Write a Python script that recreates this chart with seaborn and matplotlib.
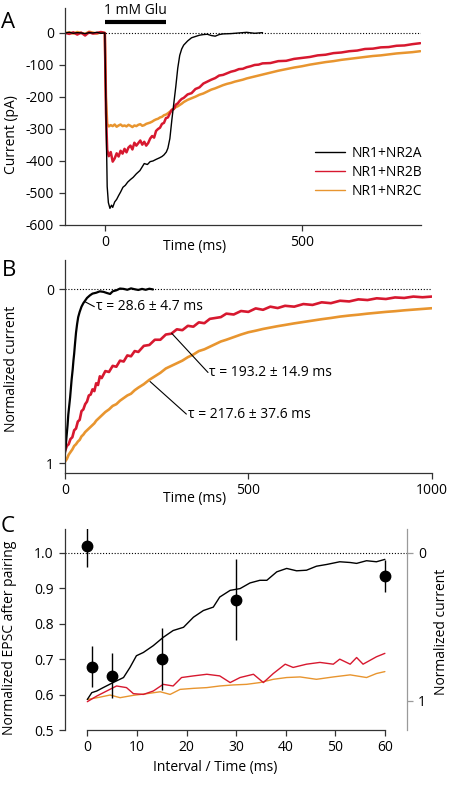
import matplotlib
matplotlib.use("Agg")
import matplotlib.pyplot as plt
import seaborn as sns
import pandas as pd

# ---------------- data ----------------
labels = ["NR1+NR2A", "NR1+NR2B", "NR1+NR2C"]
colors = ["#000000", "#d7182f", "#e8952f"]

# Panel A: raw currents (pA) vs time (ms)
a_t_2a = [-100, -90, -80, -70, -60, -50, -40, -30, -20, -10,
          0, 3, 6, 9, 13, 17, 20, 25, 30, 35, 40,
          46, 52, 58, 65, 72, 80, 89, 95, 100,
          108, 115, 122, 130, 139, 145, 150, 156, 160, 165,
          170, 175, 180, 185, 190, 195, 200, 210, 220, 230,
          240, 250, 260, 270, 280, 290, 300, 320, 340, 360,
          380, 400]
a_i_2a = [0, 2, -1, 1, 0, -2, 1, 0, 2, -1,
          0, -250, -480, -530, -548, -538, -545, -528, -520, -508, -497,
          -482, -476, -466, -458, -451, -440, -430, -418, -408,
          -411, -402, -400, -395, -390, -386, -381, -372, -360, -330,
          -272, -220, -168, -110, -70, -50, -38, -25, -15, -11,
          -7, -5, -4, -8, -10, -5, -3, -2, 0, 2,
          -1, 1]

a_t = [-100, -90, -80, -70, -60, -50, -40, -30, -20, -10,
       0, 3, 6,
       10, 15, 20, 25, 30, 35, 40, 45, 50, 55,
       60, 65, 70, 75, 80, 85, 90, 95, 100, 105,
       110, 115, 120, 125, 130, 135, 140, 145, 150, 155,
       160, 165, 170, 175, 180, 185, 190, 195, 200,
       210, 220, 230, 240, 250, 260, 270, 280, 290, 300,
       310, 320, 330, 340, 350, 360, 370, 380, 390, 400,
       420, 440, 460, 480, 500, 520, 540, 560, 580, 600,
       620, 640, 660, 680, 700, 720, 740, 760, 780, 800]
a_i_2b = [0, -3, 2, -5, 1, -8, 2, -2, 0, 3,
          0, -250, -365,
          -385, -372, -402, -392, -376, -386, -368, -377, -362, -373,
          -358, -352, -364, -343, -352, -344, -336, -349, -340, -352,
          -344, -330, -322, -327, -306, -300, -296, -284, -281, -266,
          -264, -251, -240, -238, -224, -220, -212, -206, -203,
          -192, -188, -175, -170, -158, -152, -146, -141, -133, -131,
          -126, -121, -118, -113, -112, -107, -104, -100, -99, -95,
          -94, -88, -87, -81, -78, -75, -70, -68, -63, -61,
          -57, -55, -50, -49, -45, -44, -40, -39, -35, -32]
a_i_2c = [0, 2, -2, 3, 0, -3, 4, 1, -2, 2,
          0, -200, -284,
          -292, -288, -291, -286, -293, -289, -286, -291, -289, -292,
          -287, -290, -294, -289, -291, -287, -285, -290, -288, -284,
          -282, -280, -277, -273, -270, -268, -264, -262, -257, -255,
          -251, -246, -241, -236, -232, -229, -225, -221, -216,
          -209, -204, -199, -193, -189, -183, -177, -173, -168, -163,
          -159, -156, -152, -149, -146, -142, -139, -136, -133, -130,
          -124, -118, -113, -108, -104, -99, -95, -91, -88, -84,
          -81, -78, -75, -72, -70, -67, -64, -62, -60, -57]
glu_window = [0, 155]
glu_label = "1 mM Glu"

# Panel B: normalized current vs time (ms)
b_t_2a = [0, 2, 4, 7, 9, 12, 14, 16, 18, 21,
          23, 25, 27, 30, 33, 36, 40, 45, 50, 55,
          60, 68, 75, 85, 95, 105, 115, 123, 130, 140,
          150, 160, 170, 180, 190, 200, 210, 220, 230, 240]
b_n_2a = [0.94, 0.90, 0.85, 0.78, 0.72, 0.66, 0.62, 0.57, 0.52, 0.46,
          0.41, 0.37, 0.32, 0.25, 0.20, 0.16, 0.13, 0.10, 0.08, 0.065,
          0.05, 0.035, 0.025, 0.02, 0.012, 0.015, 0.022, 0.027, 0.012, 0.006,
          -0.004, -0.002, 0.003, -0.005, 0.0, 0.004, -0.002, 0.003, -0.003, 0.001]
b_t = [0, 5, 10, 15, 20, 25, 30, 35, 40, 45, 50, 55, 60, 65, 70, 75, 80, 85, 90, 95, 100,
       110, 120, 130, 140, 150, 160, 170, 180, 190, 200,
       215, 230, 245, 260, 275, 290, 305, 320, 335, 350, 365, 380, 395, 410, 425, 440,
       460, 480, 500, 520, 540, 560, 580, 600,
       625, 650, 675, 700, 725, 750, 775, 800, 825, 850, 875, 900, 925, 950, 975, 1000]
b_n_2b = [0.93, 0.90, 0.89, 0.86, 0.85, 0.81, 0.80, 0.76, 0.75, 0.70, 0.69, 0.66, 0.645,
          0.61, 0.605, 0.575, 0.585, 0.54, 0.55, 0.50, 0.51,
          0.47, 0.475, 0.44, 0.445, 0.41, 0.415, 0.38, 0.385, 0.355, 0.36,
          0.325, 0.32, 0.29, 0.29, 0.26, 0.255, 0.23, 0.235, 0.21, 0.215, 0.19, 0.195,
          0.17, 0.165, 0.16, 0.14,
          0.145, 0.125, 0.13, 0.11, 0.118, 0.10, 0.108, 0.095,
          0.10, 0.085, 0.09, 0.075, 0.08, 0.066, 0.07, 0.058, 0.062, 0.052, 0.056,
          0.047, 0.05, 0.042, 0.046, 0.042]
b_n_2c = [0.99, 0.975, 0.95, 0.935, 0.92, 0.90, 0.89, 0.875, 0.865, 0.845, 0.835, 0.82,
          0.81, 0.80, 0.79, 0.78, 0.77, 0.755, 0.745, 0.735, 0.725,
          0.705, 0.69, 0.67, 0.66, 0.64, 0.625, 0.61, 0.60, 0.58, 0.565,
          0.545, 0.52, 0.50, 0.48, 0.455, 0.44, 0.425, 0.41, 0.39, 0.375, 0.355, 0.345,
          0.33, 0.315, 0.30, 0.29,
          0.275, 0.26, 0.247, 0.238, 0.228, 0.22, 0.212, 0.205,
          0.196, 0.188, 0.18, 0.172, 0.165, 0.157, 0.151, 0.146, 0.14, 0.135, 0.13,
          0.126, 0.121, 0.117, 0.113, 0.109]
tau_texts = ["\u03c4 = 28.6 \u00b1 4.7 ms", "\u03c4 = 193.2 \u00b1 14.9 ms",
             "\u03c4 = 217.6 \u00b1 37.6 ms"]
tau_anchor_t = [54, 291, 232]
tau_anchor_n = [0.071, 0.253, 0.53]
tau_text_t = [80, 390, 331]
tau_text_n = [0.10, 0.478, 0.717]

# Panel C: paired-pulse data (left axis) and normalized currents (right axis)
c_interval = [0, 1, 5, 15, 30, 60]
c_epsc = [1.019, 0.679, 0.653, 0.700, 0.867, 0.935]
c_err = [0.060, 0.058, 0.063, 0.087, 0.114, 0.045]

c_t_2a = [0, 0.9, 1.9, 3.2, 5.2, 7.3, 8.6, 9.9, 11.3, 13.3, 15.3, 17.3, 19.4, 21.4,
          23.4, 25.4, 26.7, 28.8, 30.8, 32.8, 34.8, 36.2, 38.2, 40.2, 42.2, 44.2,
          46.2, 48.3, 50.9, 53, 54.3, 56.3, 58.3, 60]
c_n_2a = [0.99, 0.944, 0.933, 0.91, 0.876, 0.842, 0.774, 0.695, 0.673, 0.627, 0.571,
          0.525, 0.503, 0.435, 0.39, 0.367, 0.299, 0.254, 0.242, 0.204, 0.186, 0.186,
          0.129, 0.106, 0.122, 0.118, 0.091, 0.079, 0.061, 0.066, 0.072, 0.054,
          0.061, 0.045]
c_t_2b = [0, 1.9, 3.9, 5.9, 7.9, 9.3, 11.3, 13.3, 15.3, 17.3, 19, 21.4, 24.1, 26.7,
          28.8, 30.8, 33.5, 35.5, 37.5, 39.9, 41.5, 44.2, 46.9, 49.6, 50.9, 53, 54.3,
          55.6, 58.3, 60]
c_n_2b = [1.005, 0.967, 0.933, 0.899, 0.91, 0.951, 0.956, 0.933, 0.888, 0.899, 0.842,
          0.831, 0.82, 0.831, 0.876, 0.842, 0.82, 0.876, 0.815, 0.752, 0.774, 0.752,
          0.74, 0.752, 0.718, 0.752, 0.707, 0.752, 0.702, 0.679]
c_t_2c = [0, 2.6, 4.6, 6.6, 9.3, 12, 14.7, 16.7, 18.7, 21.4, 24.1, 26.7, 29.4, 32.1,
          34.8, 37.5, 40.2, 42.9, 46.2, 49.6, 53, 56.3, 58.3, 60]
c_n_2c = [0.99, 0.974, 0.96, 0.978, 0.962, 0.951, 0.938, 0.956, 0.922, 0.915, 0.91,
          0.899, 0.892, 0.888, 0.876, 0.854, 0.842, 0.838, 0.854, 0.838, 0.824, 0.842,
          0.815, 0.802]

# ---------------- style ----------------
sns.set_theme(style="ticks")
FS = 10
spine_c = "#333333"
plt.rcParams.update({
    "font.family": ["Open Sans", "DejaVu Sans"],
    "font.size": FS,
    "axes.unicode_minus": False,
    "axes.linewidth": 0.9,
    "axes.edgecolor": spine_c,
    "axes.labelsize": FS,
    "xtick.labelsize": FS,
    "ytick.labelsize": FS,
    "xtick.major.size": 4,
    "ytick.major.size": 4,
    "xtick.major.width": 0.9,
    "ytick.major.width": 0.9,
    "xtick.color": spine_c,
    "ytick.color": spine_c,
    "xtick.labelcolor": "black",
    "ytick.labelcolor": "black",
    "xtick.major.pad": 3,
    "ytick.major.pad": 4,
    "axes.labelcolor": "black",
    "text.color": "black",
})

W, H = 458, 790
fig = plt.figure(figsize=(W / 100, H / 100), dpi=100)


def rect(l, t, r, b):
    return [l / W, 1 - b / H, (r - l) / W, (b - t) / H]


dot = (0, (1, 1.6))

# ---------------- Panel A ----------------
axA = fig.add_axes(rect(65, 8, 421, 225))
axA.axhline(0, color="black", ls=dot, lw=0.8, zorder=0.5)
sns.lineplot(x=a_t, y=a_i_2c, color=colors[2], lw=1.8, ax=axA, sort=False, estimator=None)
sns.lineplot(x=a_t, y=a_i_2b, color=colors[1], lw=1.8, ax=axA, sort=False, estimator=None)
sns.lineplot(x=a_t_2a, y=a_i_2a, color=colors[0], lw=1.0, ax=axA, sort=False, estimator=None)
axA.set_xlim(-101, 802)
axA.set_ylim(-600, 78)
axA.set_yticks([-600, -500, -400, -300, -200, -100, 0])
axA.set_xticks([0, 500])
sns.despine(ax=axA)
axA.plot(glu_window, [34, 34], color="black", lw=3, solid_capstyle="butt", clip_on=False)
axA.text(sum(glu_window) / 2, 69, glu_label, ha="center", va="center", fontsize=FS, clip_on=False)
axA.set_ylabel("Current (pA)")
axA.yaxis.set_label_coords(-0.149, 0.415)
axA.yaxis.label.set_va("center")
axA.set_xlabel("Time (ms)")
axA.xaxis.set_label_coords(0.365, -0.101)
axA.xaxis.label.set_va("center")
handles = [plt.Line2D([], [], color=c, lw=1.0) for c in colors]
axA.legend(handles, labels, loc="upper left", bbox_to_anchor=(0.702, 0.365),
           frameon=False, borderpad=0, borderaxespad=0, handlelength=2.2,
           handletextpad=0.45, labelspacing=0.3, fontsize=FS)

# ---------------- Panel B ----------------
axB = fig.add_axes(rect(65, 260, 431.7, 473.3))
axB.axhline(0, color="black", ls=dot, lw=0.8, zorder=0.5)
sns.lineplot(x=b_t, y=b_n_2c, color=colors[2], lw=1.9, ax=axB, sort=False, estimator=None)
sns.lineplot(x=b_t, y=b_n_2b, color=colors[1], lw=1.9, ax=axB, sort=False, estimator=None)
sns.lineplot(x=b_t_2a, y=b_n_2a, color=colors[0], lw=1.6, ax=axB, sort=False, estimator=None)
axB.set_xlim(0, 1000)
axB.set_ylim(1.057, -0.168)
axB.set_yticks([0, 1])
axB.set_yticklabels(["0", "1"])
axB.set_xticks([0, 500, 1000])
sns.despine(ax=axB)
for txt, at, an, tt, tn in zip(tau_texts, tau_anchor_t, tau_anchor_n, tau_text_t, tau_text_n):
    axB.plot([at, tt], [an, tn], color="black", lw=0.8)
    axB.text(tt + 4, tn, txt, ha="left", va="center", fontsize=FS)
axB.set_ylabel("Normalized current")
axB.yaxis.set_label_coords(-0.147, 0.491)
axB.yaxis.label.set_va("center")
axB.set_xlabel("Time (ms)")
axB.xaxis.set_label_coords(0.3545, -0.117)
axB.xaxis.label.set_va("center")

# ---------------- Panel C ----------------
axC = fig.add_axes(rect(65, 529.3, 406.7, 730))
axC.axhline(1.0, color="black", ls=dot, lw=0.8, zorder=0.5)
axC.set_xlim(-4.5, 64.4)
axC.set_ylim(0.5, 1.066)
axC.set_yticks([0.5, 0.6, 0.7, 0.8, 0.9, 1.0])
axC.set_yticklabels(["0.5", "0.6", "0.7", "0.8", "0.9", "1.0"])
axC.set_xticks([0, 10, 20, 30, 40, 50, 60])
sns.despine(ax=axC)
axC.spines["bottom"].set_bounds(0, 60)
axC.set_ylabel("Normalized EPSC after pairing")
axC.yaxis.set_label_coords(-0.161, 0.461)
axC.yaxis.label.set_va("center")
axC.set_xlabel("Interval / Time (ms)")
axC.xaxis.set_label_coords(0.439, -0.189)
axC.xaxis.label.set_va("center")

axR = axC.twinx()
sns.lineplot(x=c_t_2c, y=c_n_2c, color=colors[2], lw=1.0, ax=axR, sort=False, estimator=None)
sns.lineplot(x=c_t_2b, y=c_n_2b, color=colors[1], lw=1.0, ax=axR, sort=False, estimator=None)
sns.lineplot(x=c_t_2a, y=c_n_2a, color=colors[0], lw=1.0, ax=axR, sort=False, estimator=None)
axR.set_ylim(1.196, -0.158)
axR.set_yticks([0, 1])
axR.set_yticklabels(["0", "1"])
for s in ["top", "left", "bottom"]:
    axR.spines[s].set_visible(False)
axR.spines["right"].set_color("#9a9a9a")
axR.tick_params(axis="y", colors="#9a9a9a", labelcolor="black")
axR.set_ylabel("Normalized current")
axR.yaxis.set_label_coords(1.102, 0.49)
axR.yaxis.label.set_va("center")

# points drawn on top via a second axes sharing scales
axP = axC.twinx()
axP.set_ylim(axC.get_ylim())
axP.axis("off")
axP.errorbar(c_interval, c_epsc, yerr=c_err, fmt="o", color="black", ms=7.5,
             elinewidth=1.0, capsize=0, clip_on=True)

# panel letters
for letter, (px, py) in zip(["A", "B", "C"], [(8.5, 23), (9, 270), (8, 527)]):
    fig.text(px / W, 1 - py / H, letter, fontsize=16, ha="center", va="center")

fig.savefig("out.png", dpi=100)
